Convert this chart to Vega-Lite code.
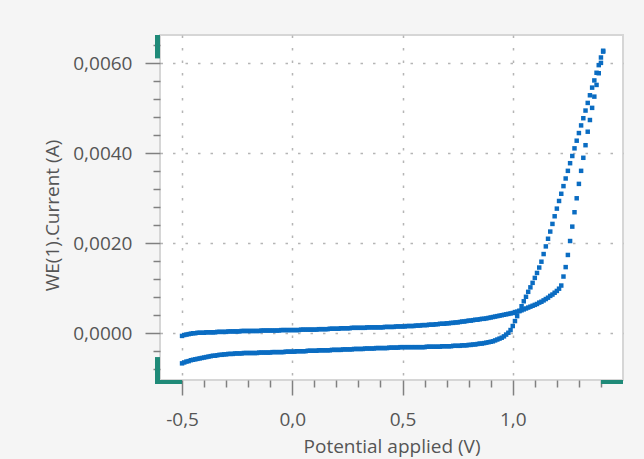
{
  "$schema": "https://vega.github.io/schema/vega-lite/v6.json",
  "width": 463,
  "height": 345,
  "autosize": {"type": "none"},
  "padding": {"left": 160, "top": 35, "right": 21, "bottom": 79},
  "background": "#f5f5f5",
  "config": {
    "view": {"fill": "white", "stroke": "#d6d6d6", "strokeWidth": 2},
    "font": "Open Sans"
  },
  "layer": [
    {
      "data": {
        "values": [
          {"E": -0.50, "fwd": -0.00006, "rev": -0.00067},
          {"E": -0.49, "fwd": -0.00004, "rev": -0.00065},
          {"E": -0.48, "fwd": -0.00003, "rev": -0.00063},
          {"E": -0.47, "fwd": -0.00002, "rev": -0.00062},
          {"E": -0.46, "fwd": -0.00001, "rev": -0.00060},
          {"E": -0.45, "fwd": 0.00000, "rev": -0.00059},
          {"E": -0.44, "fwd": 0.00000, "rev": -0.00058},
          {"E": -0.43, "fwd": 0.00001, "rev": -0.00057},
          {"E": -0.42, "fwd": 0.00001, "rev": -0.00056},
          {"E": -0.41, "fwd": 0.00001, "rev": -0.00055},
          {"E": -0.40, "fwd": 0.00001, "rev": -0.00054},
          {"E": -0.39, "fwd": 0.00002, "rev": -0.00053},
          {"E": -0.38, "fwd": 0.00002, "rev": -0.00052},
          {"E": -0.37, "fwd": 0.00002, "rev": -0.00051},
          {"E": -0.36, "fwd": 0.00002, "rev": -0.00050},
          {"E": -0.35, "fwd": 0.00002, "rev": -0.00050},
          {"E": -0.34, "fwd": 0.00003, "rev": -0.00049},
          {"E": -0.33, "fwd": 0.00003, "rev": -0.00048},
          {"E": -0.32, "fwd": 0.00003, "rev": -0.00048},
          {"E": -0.31, "fwd": 0.00003, "rev": -0.00047},
          {"E": -0.30, "fwd": 0.00003, "rev": -0.00047},
          {"E": -0.29, "fwd": 0.00004, "rev": -0.00046},
          {"E": -0.28, "fwd": 0.00004, "rev": -0.00046},
          {"E": -0.27, "fwd": 0.00004, "rev": -0.00046},
          {"E": -0.26, "fwd": 0.00004, "rev": -0.00045},
          {"E": -0.25, "fwd": 0.00004, "rev": -0.00045},
          {"E": -0.24, "fwd": 0.00004, "rev": -0.00045},
          {"E": -0.23, "fwd": 0.00005, "rev": -0.00045},
          {"E": -0.22, "fwd": 0.00005, "rev": -0.00044},
          {"E": -0.21, "fwd": 0.00005, "rev": -0.00044},
          {"E": -0.20, "fwd": 0.00005, "rev": -0.00044},
          {"E": -0.19, "fwd": 0.00005, "rev": -0.00044},
          {"E": -0.18, "fwd": 0.00005, "rev": -0.00044},
          {"E": -0.17, "fwd": 0.00005, "rev": -0.00044},
          {"E": -0.16, "fwd": 0.00005, "rev": -0.00044},
          {"E": -0.15, "fwd": 0.00005, "rev": -0.00043},
          {"E": -0.14, "fwd": 0.00006, "rev": -0.00043},
          {"E": -0.13, "fwd": 0.00006, "rev": -0.00043},
          {"E": -0.12, "fwd": 0.00006, "rev": -0.00043},
          {"E": -0.11, "fwd": 0.00006, "rev": -0.00043},
          {"E": -0.10, "fwd": 0.00006, "rev": -0.00043},
          {"E": -0.09, "fwd": 0.00006, "rev": -0.00042},
          {"E": -0.08, "fwd": 0.00006, "rev": -0.00042},
          {"E": -0.07, "fwd": 0.00006, "rev": -0.00042},
          {"E": -0.06, "fwd": 0.00006, "rev": -0.00042},
          {"E": -0.05, "fwd": 0.00007, "rev": -0.00042},
          {"E": -0.04, "fwd": 0.00007, "rev": -0.00042},
          {"E": -0.03, "fwd": 0.00007, "rev": -0.00041},
          {"E": -0.02, "fwd": 0.00007, "rev": -0.00041},
          {"E": -0.01, "fwd": 0.00007, "rev": -0.00041},
          {"E": 0.00, "fwd": 0.00007, "rev": -0.00041},
          {"E": 0.01, "fwd": 0.00007, "rev": -0.00041},
          {"E": 0.02, "fwd": 0.00007, "rev": -0.00040},
          {"E": 0.03, "fwd": 0.00007, "rev": -0.00040},
          {"E": 0.04, "fwd": 0.00008, "rev": -0.00040},
          {"E": 0.05, "fwd": 0.00008, "rev": -0.00040},
          {"E": 0.06, "fwd": 0.00008, "rev": -0.00040},
          {"E": 0.07, "fwd": 0.00008, "rev": -0.00039},
          {"E": 0.08, "fwd": 0.00008, "rev": -0.00039},
          {"E": 0.09, "fwd": 0.00008, "rev": -0.00039},
          {"E": 0.10, "fwd": 0.00008, "rev": -0.00039},
          {"E": 0.11, "fwd": 0.00008, "rev": -0.00039},
          {"E": 0.12, "fwd": 0.00009, "rev": -0.00038},
          {"E": 0.13, "fwd": 0.00009, "rev": -0.00038},
          {"E": 0.14, "fwd": 0.00009, "rev": -0.00038},
          {"E": 0.15, "fwd": 0.00009, "rev": -0.00038},
          {"E": 0.16, "fwd": 0.00009, "rev": -0.00038},
          {"E": 0.17, "fwd": 0.00010, "rev": -0.00038},
          {"E": 0.18, "fwd": 0.00010, "rev": -0.00037},
          {"E": 0.19, "fwd": 0.00010, "rev": -0.00037},
          {"E": 0.20, "fwd": 0.00010, "rev": -0.00037},
          {"E": 0.21, "fwd": 0.00010, "rev": -0.00037},
          {"E": 0.22, "fwd": 0.00011, "rev": -0.00037},
          {"E": 0.23, "fwd": 0.00011, "rev": -0.00036},
          {"E": 0.24, "fwd": 0.00011, "rev": -0.00036},
          {"E": 0.25, "fwd": 0.00011, "rev": -0.00036},
          {"E": 0.26, "fwd": 0.00011, "rev": -0.00036},
          {"E": 0.27, "fwd": 0.00012, "rev": -0.00036},
          {"E": 0.28, "fwd": 0.00012, "rev": -0.00035},
          {"E": 0.29, "fwd": 0.00012, "rev": -0.00035},
          {"E": 0.30, "fwd": 0.00012, "rev": -0.00035},
          {"E": 0.31, "fwd": 0.00012, "rev": -0.00035},
          {"E": 0.32, "fwd": 0.00012, "rev": -0.00035},
          {"E": 0.33, "fwd": 0.00012, "rev": -0.00034},
          {"E": 0.34, "fwd": 0.00013, "rev": -0.00034},
          {"E": 0.35, "fwd": 0.00013, "rev": -0.00034},
          {"E": 0.36, "fwd": 0.00013, "rev": -0.00034},
          {"E": 0.37, "fwd": 0.00013, "rev": -0.00034},
          {"E": 0.38, "fwd": 0.00013, "rev": -0.00033},
          {"E": 0.39, "fwd": 0.00013, "rev": -0.00033},
          {"E": 0.40, "fwd": 0.00013, "rev": -0.00033},
          {"E": 0.41, "fwd": 0.00013, "rev": -0.00033},
          {"E": 0.42, "fwd": 0.00014, "rev": -0.00033},
          {"E": 0.43, "fwd": 0.00014, "rev": -0.00033},
          {"E": 0.44, "fwd": 0.00014, "rev": -0.00032},
          {"E": 0.45, "fwd": 0.00014, "rev": -0.00032},
          {"E": 0.46, "fwd": 0.00014, "rev": -0.00032},
          {"E": 0.47, "fwd": 0.00015, "rev": -0.00032},
          {"E": 0.48, "fwd": 0.00015, "rev": -0.00032},
          {"E": 0.49, "fwd": 0.00015, "rev": -0.00031},
          {"E": 0.50, "fwd": 0.00015, "rev": -0.00031},
          {"E": 0.51, "fwd": 0.00015, "rev": -0.00031},
          {"E": 0.52, "fwd": 0.00016, "rev": -0.00031},
          {"E": 0.53, "fwd": 0.00016, "rev": -0.00031},
          {"E": 0.54, "fwd": 0.00016, "rev": -0.00031},
          {"E": 0.55, "fwd": 0.00016, "rev": -0.00031},
          {"E": 0.56, "fwd": 0.00017, "rev": -0.00031},
          {"E": 0.57, "fwd": 0.00017, "rev": -0.00031},
          {"E": 0.58, "fwd": 0.00017, "rev": -0.00031},
          {"E": 0.59, "fwd": 0.00018, "rev": -0.00031},
          {"E": 0.60, "fwd": 0.00018, "rev": -0.00031},
          {"E": 0.61, "fwd": 0.00018, "rev": -0.00030},
          {"E": 0.62, "fwd": 0.00019, "rev": -0.00030},
          {"E": 0.63, "fwd": 0.00019, "rev": -0.00030},
          {"E": 0.64, "fwd": 0.00019, "rev": -0.00030},
          {"E": 0.65, "fwd": 0.00020, "rev": -0.00030},
          {"E": 0.66, "fwd": 0.00020, "rev": -0.00030},
          {"E": 0.67, "fwd": 0.00021, "rev": -0.00030},
          {"E": 0.68, "fwd": 0.00021, "rev": -0.00029},
          {"E": 0.69, "fwd": 0.00021, "rev": -0.00029},
          {"E": 0.70, "fwd": 0.00022, "rev": -0.00029},
          {"E": 0.71, "fwd": 0.00022, "rev": -0.00029},
          {"E": 0.72, "fwd": 0.00023, "rev": -0.00029},
          {"E": 0.73, "fwd": 0.00023, "rev": -0.00028},
          {"E": 0.74, "fwd": 0.00024, "rev": -0.00028},
          {"E": 0.75, "fwd": 0.00024, "rev": -0.00028},
          {"E": 0.76, "fwd": 0.00025, "rev": -0.00028},
          {"E": 0.77, "fwd": 0.00026, "rev": -0.00027},
          {"E": 0.78, "fwd": 0.00026, "rev": -0.00027},
          {"E": 0.79, "fwd": 0.00027, "rev": -0.00027},
          {"E": 0.80, "fwd": 0.00028, "rev": -0.00026},
          {"E": 0.81, "fwd": 0.00028, "rev": -0.00026},
          {"E": 0.82, "fwd": 0.00029, "rev": -0.00025},
          {"E": 0.83, "fwd": 0.00030, "rev": -0.00025},
          {"E": 0.84, "fwd": 0.00030, "rev": -0.00024},
          {"E": 0.85, "fwd": 0.00031, "rev": -0.00023},
          {"E": 0.86, "fwd": 0.00032, "rev": -0.00023},
          {"E": 0.87, "fwd": 0.00032, "rev": -0.00022},
          {"E": 0.88, "fwd": 0.00033, "rev": -0.00021},
          {"E": 0.89, "fwd": 0.00034, "rev": -0.00020},
          {"E": 0.90, "fwd": 0.00035, "rev": -0.00019},
          {"E": 0.91, "fwd": 0.00036, "rev": -0.00018},
          {"E": 0.92, "fwd": 0.00037, "rev": -0.00016},
          {"E": 0.93, "fwd": 0.00038, "rev": -0.00014},
          {"E": 0.94, "fwd": 0.00039, "rev": -0.00012},
          {"E": 0.95, "fwd": 0.00040, "rev": -0.00010},
          {"E": 0.96, "fwd": 0.00041, "rev": -0.00007},
          {"E": 0.97, "fwd": 0.00042, "rev": -0.00003},
          {"E": 0.98, "fwd": 0.00043, "rev": 0.00001},
          {"E": 0.99, "fwd": 0.00044, "rev": 0.00007},
          {"E": 1.00, "fwd": 0.00045, "rev": 0.00016},
          {"E": 1.01, "fwd": 0.00047, "rev": 0.00027},
          {"E": 1.02, "fwd": 0.00048, "rev": 0.00038},
          {"E": 1.03, "fwd": 0.00050, "rev": 0.00049},
          {"E": 1.04, "fwd": 0.00051, "rev": 0.00060},
          {"E": 1.05, "fwd": 0.00053, "rev": 0.00071},
          {"E": 1.06, "fwd": 0.00055, "rev": 0.00081},
          {"E": 1.07, "fwd": 0.00057, "rev": 0.00092},
          {"E": 1.08, "fwd": 0.00059, "rev": 0.00102},
          {"E": 1.09, "fwd": 0.00061, "rev": 0.00112},
          {"E": 1.10, "fwd": 0.00063, "rev": 0.00123},
          {"E": 1.11, "fwd": 0.00065, "rev": 0.00134},
          {"E": 1.12, "fwd": 0.00068, "rev": 0.00146},
          {"E": 1.13, "fwd": 0.00070, "rev": 0.00159},
          {"E": 1.14, "fwd": 0.00073, "rev": 0.00176},
          {"E": 1.15, "fwd": 0.00076, "rev": 0.00193},
          {"E": 1.16, "fwd": 0.00079, "rev": 0.00210},
          {"E": 1.17, "fwd": 0.00083, "rev": 0.00226},
          {"E": 1.18, "fwd": 0.00086, "rev": 0.00243},
          {"E": 1.19, "fwd": 0.00090, "rev": 0.00260},
          {"E": 1.20, "fwd": 0.00094, "rev": 0.00277},
          {"E": 1.21, "fwd": 0.00099, "rev": 0.00294},
          {"E": 1.22, "fwd": 0.00106, "rev": 0.00310},
          {"E": 1.23, "fwd": 0.00126, "rev": 0.00327},
          {"E": 1.24, "fwd": 0.00147, "rev": 0.00344},
          {"E": 1.25, "fwd": 0.00174, "rev": 0.00361},
          {"E": 1.26, "fwd": 0.00205, "rev": 0.00378},
          {"E": 1.27, "fwd": 0.00237, "rev": 0.00394},
          {"E": 1.28, "fwd": 0.00269, "rev": 0.00411},
          {"E": 1.29, "fwd": 0.00300, "rev": 0.00428},
          {"E": 1.30, "fwd": 0.00332, "rev": 0.00445},
          {"E": 1.31, "fwd": 0.00361, "rev": 0.00462},
          {"E": 1.32, "fwd": 0.00390, "rev": 0.00478},
          {"E": 1.33, "fwd": 0.00418, "rev": 0.00495},
          {"E": 1.34, "fwd": 0.00448, "rev": 0.00512},
          {"E": 1.35, "fwd": 0.00474, "rev": 0.00529},
          {"E": 1.36, "fwd": 0.00501, "rev": 0.00546},
          {"E": 1.37, "fwd": 0.00526, "rev": 0.00562},
          {"E": 1.38, "fwd": 0.00552, "rev": 0.00579},
          {"E": 1.39, "fwd": 0.00578, "rev": 0.00596},
          {"E": 1.40, "fwd": 0.00601, "rev": 0.00613},
          {"E": 1.41, "fwd": 0.00626, "rev": 0.00628}
        ]
      },
      "transform": [{"fold": ["fwd", "rev"], "as": ["scan", "I"]}],
      "mark": {"type": "point", "shape": "square", "filled": true, "size": 20, "opacity": 1, "color": "#0a6cc2"},
      "encoding": {
        "x": {
          "field": "E",
          "type": "quantitative",
          "scale": {"domain": [-0.6, 1.5], "nice": false, "zero": false},
          "axis": {
            "title": "Potential applied (V)",
            "values": [-0.5, -0.4, -0.3, -0.2, -0.1, 0, 0.1, 0.2, 0.3, 0.4, 0.5, 0.6, 0.7, 0.8, 0.9, 1.0, 1.1, 1.2, 1.3, 1.4],
            "tickCount": 200,
            "domain": false,
            "grid": true,
            "gridDash": [2.5, 10],
            "gridColor": "#b5b5b5",
            "gridWidth": 1.5,
            "gridOpacity": {"condition": {"test": "abs(round(datum.value*10)%5)==0", "value": 1}, "value": 0},
            "tickColor": "#808080",
            "tickWidth": 1.5,
            "tickSize": {"condition": {"test": "abs(round(datum.value*10)%5)==0", "value": 15}, "value": 7},
            "labelExpr": "abs(round(datum.value*10)%5)==0 ? replace(replace(format(datum.value,'.1f'),'.',','),'−','-') : ''",
            "labelFlush": false,
            "labelOverlap": false,
            "labelFont": "Open Sans",
            "labelFontSize": 19,
            "labelColor": "#555555",
            "labelPadding": 15,
            "titleFont": "Open Sans",
            "titleFontSize": 19,
            "titleFontWeight": "normal",
            "titleColor": "#555555",
            "titlePadding": 8
          }
        },
        "y": {
          "field": "I",
          "type": "quantitative",
          "scale": {"domain": [-0.00104, 0.00663], "nice": false, "zero": false},
          "axis": {
            "title": "WE(1).Current (A)",
            "values": [-0.0008, -0.0004, 0, 0.0004, 0.0008, 0.0012, 0.0016, 0.002, 0.0024, 0.0028, 0.0032, 0.0036, 0.004, 0.0044, 0.0048, 0.0052, 0.0056, 0.006, 0.0064],
            "tickCount": 200,
            "domain": false,
            "grid": true,
            "gridDash": [2.5, 10],
            "gridColor": "#b5b5b5",
            "gridWidth": 1.5,
            "gridOpacity": {"condition": {"test": "abs(round(datum.value*10000)%20)==0", "value": 1}, "value": 0},
            "tickColor": "#808080",
            "tickWidth": 1.5,
            "tickSize": {"condition": {"test": "abs(round(datum.value*10000)%20)==0", "value": 15}, "value": 7},
            "labelExpr": "abs(round(datum.value*10000)%20)==0 ? replace(format(datum.value,'.4f'),'.',',') : ''",
            "labelFlush": false,
            "labelOverlap": false,
            "labelFont": "Open Sans",
            "labelFontSize": 19,
            "labelColor": "#555555",
            "labelPadding": 13,
            "titleFont": "Open Sans",
            "titleFontSize": 19,
            "titleFontWeight": "normal",
            "titleColor": "#555555",
            "titlePadding": 10,
            "titleY": 180
          }
        }
      }
    },
    {
      "data": {"values": [{}]},
      "mark": {"type": "rule", "color": "#1f8a78", "strokeWidth": 5, "xOffset": -2.5},
      "encoding": {
        "x": {"datum": -0.6, "type": "quantitative"},
        "y": {"datum": 0.00611, "type": "quantitative"},
        "y2": {"datum": 0.00663}
      }
    },
    {
      "data": {"values": [{}]},
      "mark": {"type": "rule", "color": "#1f8a78", "strokeWidth": 5, "xOffset": -2.5, "y2Offset": 2},
      "encoding": {
        "x": {"datum": -0.6, "type": "quantitative"},
        "y": {"datum": -0.00053, "type": "quantitative"},
        "y2": {"datum": -0.00104}
      }
    },
    {
      "data": {"values": [{}]},
      "mark": {"type": "rule", "color": "#1f8a78", "strokeWidth": 4, "yOffset": 2, "xOffset": -5},
      "encoding": {
        "x": {"datum": -0.6, "type": "quantitative"},
        "x2": {"datum": -0.5},
        "y": {"datum": -0.00104, "type": "quantitative"}
      }
    },
    {
      "data": {"values": [{}]},
      "mark": {"type": "rule", "color": "#1f8a78", "strokeWidth": 4, "yOffset": 2},
      "encoding": {
        "x": {"datum": 1.4, "type": "quantitative"},
        "x2": {"datum": 1.5},
        "y": {"datum": -0.00104, "type": "quantitative"}
      }
    }
  ]
}
